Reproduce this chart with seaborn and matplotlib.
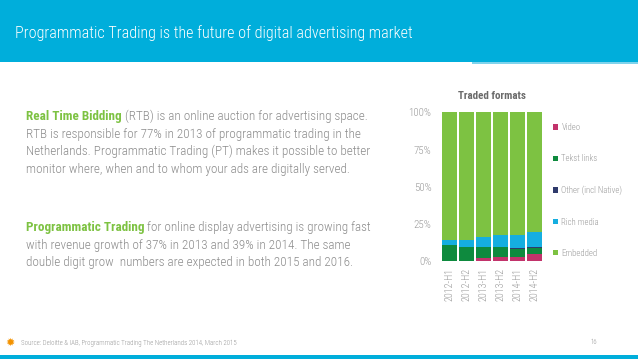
import matplotlib
matplotlib.use("Agg")
import matplotlib.pyplot as plt
import seaborn as sns
import pandas as pd
from matplotlib.patches import Rectangle, Patch
from matplotlib import font_manager as fm

# ---------------- data ----------------
periods = ["2012-H1", "2012-H2", "2013-H1", "2013-H2", "2014-H1", "2014-H2"]
video = [0.3, 0.3, 2.0, 2.7, 2.7, 4.5]
tekst_links = [10.5, 9.4, 7.4, 6.7, 5.2, 4.5]
other = [0.0, 0.0, 0.0, 0.0, 0.6, 0.7]
rich_media = [3.3, 4.4, 6.5, 8.3, 9.2, 10.1]
embedded = [85.9, 85.9, 84.1, 82.3, 82.3, 80.2]
series_names = ["Video", "Tekst links", "Other (incl Native)", "Rich media", "Embedded"]
series_colors = ["#C2336B", "#0E8A3E", "#2F3A6B", "#15AEE0", "#7DC242"]
ytick_values = [0, 25, 50, 75, 100]
ytick_labels = ["0%", "25%", "50%", "75%", "100%"]

title = "Programmatic Trading is the future of digital advertising market"
chart_title = "Traded formats"
source = "Source: Deloitte & IAB, Programmatic Trading The Netherlands 2014, March 2015"
page = "16"

sns.set_theme(style="white")

# pick a condensed face if one exists
names = {f.name for f in fm.fontManager.ttflist}
stretch = "normal"
if "Roboto Condensed" in names:
    fam = ["Roboto Condensed", "DejaVu Sans"]
elif "Liberation Sans Narrow" in names:
    fam = ["Liberation Sans Narrow", "DejaVu Sans"]
elif any(f.name == "DejaVu Sans" and f.stretch == "condensed" for f in fm.fontManager.ttflist):
    fam = ["DejaVu Sans"]
    stretch = "condensed"
else:
    fam = ["Roboto", "DejaVu Sans"]
plt.rcParams["font.family"] = fam
plt.rcParams["font.stretch"] = stretch

W, H = 638, 359
fig = plt.figure(figsize=(W / 100, H / 100), dpi=100)
fig.patch.set_facecolor("white")
renderer = fig.canvas.get_renderer()

def fx(px):
    return px / W

def fy(py):
    return 1 - py / H

def fit_size(s, target_w, weight="normal", probe=10.0):
    t = fig.text(0, 0, s, fontsize=probe, weight=weight)
    w = t.get_window_extent(renderer).width
    t.remove()
    return probe * target_w / w

LIGHT = "light"

# header band
fig.patches.append(Rectangle((0, fy(62)), 1, 62 / H, transform=fig.transFigure,
                             facecolor="#00AEDB", edgecolor="none", zorder=0))
fig.patches.append(Rectangle((fx(472), fy(63.5)), 1, 1.2 / H, transform=fig.transFigure,
                             facecolor="#7FD3EC", edgecolor="none", zorder=0))
fig.text(fx(15), fy(33), title, color="white", fontsize=fit_size(title, 397, weight=LIGHT),
         weight=LIGHT, va="center", ha="left")

# footer
fig.patches.append(Rectangle((0, 0), 1, 4 / H, transform=fig.transFigure,
                             facecolor="#00AEDB", edgecolor="none", zorder=0))
fig.text(fx(10), fy(343), "\u2739", color="#F39200", fontsize=8, va="center", ha="center",
         family=["DejaVu Sans"], stretch="normal")
ssz = fit_size(source, 216, weight=LIGHT)
fig.text(fx(21), fy(343), source, color="#9A9A9A", fontsize=ssz, weight=LIGHT,
         va="center", ha="left")
fig.text(fx(590), fy(343), page, color="#9A9A9A", fontsize=ssz, weight=LIGHT,
         va="center", ha="left")

# body text
green = "#7DC242"
grey = "#8C8C8C"
fs = fit_size("RTB is responsible for 77% in 2013 of programmatic trading in the", 335,
              weight=LIGHT)

def mixed_line(x, yc, bold, rest):
    t1 = fig.text(fx(x), fy(yc + 4.5), bold, color=green, fontsize=fs, weight="bold",
                  va="baseline", ha="left")
    bb = t1.get_window_extent(renderer)
    fig.text(bb.x1 / fig.bbox.width, fy(yc + 4.5), rest, color=grey, fontsize=fs,
             weight=LIGHT, va="baseline", ha="left")

def plain_line(x, yc, s):
    fig.text(fx(x), fy(yc + 4.5), s, color=grey, fontsize=fs, weight=LIGHT,
             va="baseline", ha="left")

mixed_line(26, 115.7, "Real Time Bidding", " (RTB) is an online auction for advertising space.")
plain_line(26, 133.3, "RTB is responsible for 77% in 2013 of programmatic trading in the")
plain_line(26, 150.7, "Netherlands. Programmatic Trading (PT) makes it possible to better")
plain_line(26, 168.3, "monitor where, when and to whom your ads are digitally served.")
mixed_line(26, 226.7, "Programmatic Trading", " for online display advertising is growing fast")
plain_line(26, 244.0, "with revenue growth of 37% in 2013 and 39% in 2014. The same")
plain_line(26, 261.3, "double digit grow  numbers are expected in both 2015 and 2016.")

# ---------------- chart ----------------
ax = fig.add_axes([fx(441), fy(261), 102 / W, 148.5 / H])
df = pd.DataFrame({"period": periods, "Video": video, "Tekst links": tekst_links,
                   "Other (incl Native)": other, "Rich media": rich_media,
                   "Embedded": embedded})
cum = df[series_names].cumsum(axis=1)
for name, col in reversed(list(zip(series_names, series_colors))):
    sns.barplot(x=df["period"], y=cum[name], color=col, saturation=1, width=0.9,
                errorbar=None, ax=ax, linewidth=0)

ax.set_xlim(-0.5, len(periods) - 0.5)
ax.set_ylim(0, 100)
ax.set_yticks(ytick_values, ytick_labels)
ax.set_xlabel("")
ax.set_ylabel("")
sns.despine(ax=ax, left=True, bottom=True)
ysz = fit_size("100%", 23, weight=LIGHT)
xsz = fit_size("2012-H1", 33, weight=LIGHT)
ax.tick_params(axis="y", length=0, pad=7, labelsize=ysz, labelcolor="#9A9A9A")
ax.tick_params(axis="x", length=0, pad=5, labelsize=xsz, labelcolor="#9A9A9A", rotation=90)
for lab in ax.get_xticklabels() + ax.get_yticklabels():
    lab.set_fontweight(LIGHT)
ax.set_title(chart_title, fontsize=fit_size(chart_title, 68, weight="bold"), weight="bold",
             color="#6B6B6B", pad=10)

handles = [Patch(facecolor=c, edgecolor="none") for c in series_colors]
lsz = fit_size("Other (incl Native)", 61, weight=LIGHT)
leg = ax.legend(handles, series_names, loc="upper left", bbox_to_anchor=(fx(553), fy(123)),
                bbox_transform=fig.transFigure, frameon=False, fontsize=lsz,
                handlelength=0.55, handleheight=0.55, handletextpad=0.4,
                labelspacing=2.55, borderaxespad=0, borderpad=0)
for t in leg.get_texts():
    t.set_color("#9A9A9A")
    t.set_fontweight(LIGHT)

fig.savefig("out.png", dpi=100, facecolor="white")
